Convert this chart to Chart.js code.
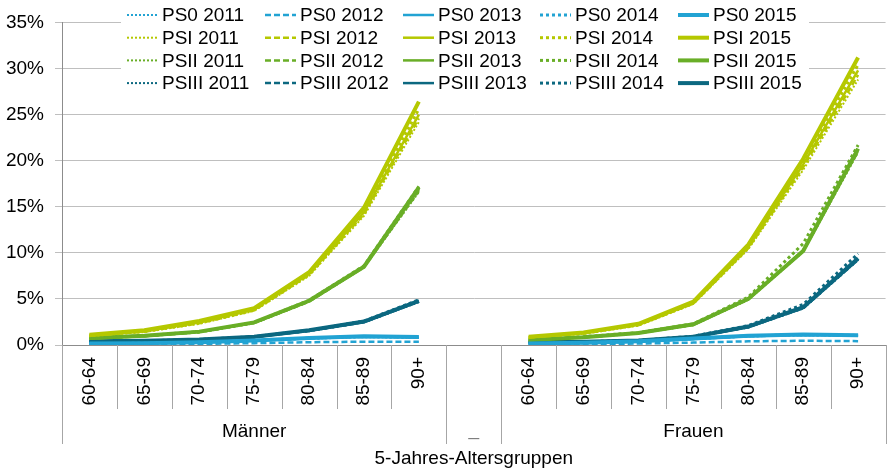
<!DOCTYPE html>
<html>
<head>
<meta charset="utf-8">
<script src="https://cdn.jsdelivr.net/npm/chart.js@4.4.1/dist/chart.umd.min.js"></script>
<style>
html,body{margin:0;padding:0;background:#fff;}
#wrap{width:893px;height:472px;position:relative;}
</style>
</head>
<body>
<div id="wrap"><canvas id="c" width="893" height="472"></canvas></div>
<script>
// ---- data ----
const categories = ['60-64','65-69','70-74','75-79','80-84','85-89','90+','','60-64','65-69','70-74','75-79','80-84','85-89','90+'];
const groupLabels = ['Männer','_','Frauen'];
const groupStarts = [0,7,8];
const groupEnds = [6,7,14];
const years = ['2011','2012','2013','2014','2015'];
const seriesNames = ['PS0','PSI','PSII','PSIII'];
const yTicks = [0,5,10,15,20,25,30,35];
const axisTitle = '5-Jahres-Altersgruppen';

const ps0_2011 = [0.12,0.17,0.26,0.45,0.68,0.85,0.78,null,0.12,0.2,0.35,0.62,0.92,1.05,0.98];
const ps0_2012 = [0.05,0.08,0.12,0.2,0.3,0.36,0.35,null,0.05,0.1,0.16,0.26,0.4,0.46,0.42];
const ps0_2013 = [0.13,0.18,0.28,0.48,0.72,0.9,0.82,null,0.14,0.23,0.38,0.66,0.96,1.1,1.02];
const ps0_2014 = [0.14,0.19,0.29,0.49,0.74,0.92,0.84,null,0.14,0.24,0.39,0.68,0.98,1.12,1.04];
const ps0_2015 = [0.15,0.2,0.3,0.5,0.76,0.95,0.86,null,0.15,0.25,0.4,0.7,1.0,1.15,1.06];

const psi_2011 = [0.95,1.4,2.3,3.7,7.5,14.0,24.2,null,0.8,1.2,2.1,4.45,10.4,19.0,28.8];
const psi_2012 = [1.0,1.45,2.35,3.75,7.6,14.2,24.6,null,0.8,1.25,2.15,4.5,10.5,19.3,29.3];
const psi_2013 = [1.0,1.5,2.45,3.85,7.7,14.4,25.0,null,0.85,1.3,2.2,4.55,10.6,19.6,29.8];
const psi_2014 = [1.05,1.55,2.5,3.9,7.8,14.6,25.6,null,0.85,1.3,2.25,4.6,10.8,19.9,30.4];
const psi_2015 = [1.1,1.6,2.6,4.0,7.9,14.9,26.4,null,0.9,1.35,2.3,4.7,10.9,20.2,31.2];

const psii_2011 = [0.7,0.95,1.35,2.35,4.7,8.4,16.6,null,0.5,0.8,1.25,2.15,4.9,10.1,20.9];
const psii_2012 = [0.7,0.95,1.4,2.4,4.7,8.45,16.7,null,0.55,0.85,1.3,2.2,4.95,10.2,21.0];
const psii_2013 = [0.7,0.95,1.4,2.4,4.75,8.5,16.9,null,0.55,0.85,1.3,2.2,5.0,10.3,21.2];
const psii_2014 = [0.75,1.0,1.45,2.45,4.85,8.6,17.2,null,0.6,0.9,1.35,2.3,5.2,11.0,21.7];
const psii_2015 = [0.75,1.0,1.45,2.45,4.8,8.5,17.1,null,0.55,0.85,1.3,2.25,5.0,10.2,21.3];

const psiii_2011 = [0.36,0.41,0.55,0.85,1.5,2.45,4.65,null,0.27,0.32,0.46,0.85,1.9,3.95,9.2];
const psiii_2012 = [0.37,0.42,0.57,0.87,1.53,2.48,4.7,null,0.28,0.33,0.47,0.87,1.93,4.0,9.25];
const psiii_2013 = [0.38,0.43,0.58,0.88,1.55,2.5,4.75,null,0.28,0.33,0.48,0.88,1.95,4.05,9.3];
const psiii_2014 = [0.4,0.45,0.6,0.9,1.6,2.6,4.9,null,0.3,0.35,0.5,0.95,2.1,4.4,9.9];
const psiii_2015 = [0.4,0.45,0.6,0.9,1.6,2.55,4.8,null,0.3,0.35,0.5,0.9,2.0,4.1,9.4];

const seriesData = [
  [ps0_2011, ps0_2012, ps0_2013, ps0_2014, ps0_2015],
  [psi_2011, psi_2012, psi_2013, psi_2014, psi_2015],
  [psii_2011, psii_2012, psii_2013, psii_2014, psii_2015],
  [psiii_2011, psiii_2012, psiii_2013, psiii_2014, psiii_2015]
];

// ---- styles ----
const colors = ['#22a3d3', '#b5c800', '#69ae27', '#0c6880'];
const yearStyles = [
  {width:2, dash:[2,2]},
  {width:2.5, dash:[6,3]},
  {width:2.5, dash:[]},
  {width:3, dash:[3,3]},
  {width:4, dash:[]}
];
const FONT = "'Liberation Sans', Arial, sans-serif";
const FS = 19;

const datasets = [];
seriesNames.forEach((s, si) => {
  years.forEach((y, yi) => {
    datasets.push({
      label: s + ' ' + y,
      data: seriesData[si][yi],
      borderColor: colors[si],
      backgroundColor: colors[si],
      borderWidth: yearStyles[yi].width,
      borderDash: yearStyles[yi].dash,
      pointRadius: 0,
      pointHoverRadius: 0,
      tension: 0,
      spanGaps: false,
      fill: false,
      _si: si, _yi: yi
    });
  });
});

const deco = {
  id: 'deco',
  beforeDatasetsDraw(chart) {
    const ctx = chart.ctx;
    ctx.save();
    ctx.fillStyle = '#fff';
    ctx.fillRect(121, 2, 688, 92);
    const colX = [127, 265, 403, 540, 678];
    ctx.font = FS + 'px ' + FONT;
    ctx.textBaseline = 'middle';
    ctx.textAlign = 'left';
    chart.data.datasets.forEach(ds => {
      const x = colX[ds._yi];
      const y = 15 + ds._si * 22.7;
      ctx.strokeStyle = ds.borderColor;
      ctx.lineWidth = ds.borderWidth;
      ctx.setLineDash(ds.borderDash);
      ctx.beginPath();
      ctx.moveTo(x, y);
      ctx.lineTo(x + 31, y);
      ctx.stroke();
      ctx.setLineDash([]);
      ctx.fillStyle = '#000';
      ctx.fillText(ds.label, x + 35, y + 1);
    });
    ctx.restore();
  },
  afterDraw(chart) {
    const ctx = chart.ctx;
    const xs = chart.scales.x;
    const area = chart.chartArea;
    const half = (xs.getPixelForValue(1) - xs.getPixelForValue(0)) / 2;
    const y0 = area.bottom;
    ctx.save();
    ctx.strokeStyle = '#a6a6a6';
    ctx.lineWidth = 1;
    // category separators
    for (let i = 0; i <= categories.length; i++) {
      const x = Math.round(xs.getPixelForValue(0) - half + i * 2 * half) + 0.5;
      const isGroupEdge = groupStarts.includes(i) || i === categories.length;
      ctx.beginPath();
      ctx.moveTo(x, y0);
      ctx.lineTo(x, isGroupEdge ? 444 : 409);
      ctx.stroke();
    }
    // group labels
    ctx.font = FS + 'px ' + FONT;
    ctx.textAlign = 'center';
    ctx.textBaseline = 'middle';
    groupLabels.forEach((g, gi) => {
      const xa = xs.getPixelForValue(groupStarts[gi]);
      const xb = xs.getPixelForValue(groupEnds[gi]);
      const cx = (xa + xb) / 2;
      if (g === '_') {
        ctx.fillStyle = '#7f7f7f';
        ctx.fillText(g, cx, 430);
      } else {
        ctx.fillStyle = '#000';
        ctx.fillText(g, cx, 432);
      }
    });
    ctx.fillStyle = '#000';
    ctx.fillText(axisTitle, (area.left + area.right) / 2, 459);
    ctx.restore();
  }
};

Chart.defaults.font.family = FONT;
Chart.defaults.font.size = FS;
Chart.defaults.color = '#000';

new Chart(document.getElementById('c'), {
  type: 'line',
  data: { labels: categories, datasets: datasets },
  options: {
    responsive: false,
    animation: false,
    events: [],
    layout: { padding: { top: 20, right: 3, left: 0, bottom: 0 } },
    plugins: { legend: { display: false }, tooltip: { enabled: false }, title: { display: false } },
    scales: {
      x: {
        type: 'category',
        offset: true,
        grid: { display: true, drawOnChartArea: false, drawTicks: false, offset: true },
        border: { display: true, color: '#8c8c8c', width: 1 },
        ticks: { autoSkip: false, maxRotation: 90, minRotation: 90, padding: 12, color: '#000', font: { size: FS } },
        afterFit(s) { s.height = 127; }
      },
      y: {
        min: 0, max: 35,
        afterBuildTicks(s) { s.ticks = yTicks.map(v => ({ value: v })); },
        grid: { color: '#bfbfbf', lineWidth: 1, tickLength: 7, drawTicks: true },
        border: { display: true, color: '#8c8c8c', width: 1 },
        ticks: { padding: 11, color: '#000', font: { size: FS }, callback: v => v + '%' },
        afterFit(s) { s.width = 62; }
      }
    }
  },
  plugins: [deco]
});
</script>
</body>
</html>
